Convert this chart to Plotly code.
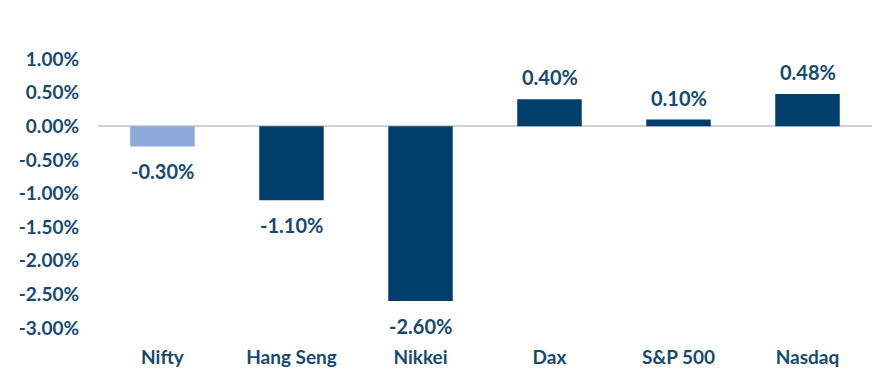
import plotly.graph_objects as go

categories = ["Nifty", "Hang Seng", "Nikkei", "Dax", "S&P 500", "Nasdaq"]
values = [-0.30, -1.10, -2.60, 0.40, 0.10, 0.48]
labels = ["-0.30%", "-1.10%", "-2.60%", "0.40%", "0.10%", "0.48%"]
tick_vals = [1.0, 0.5, 0.0, -0.5, -1.0, -1.5, -2.0, -2.5, -3.0]
tick_text = ["1.00%", "0.50%", "0.00%", "-0.50%", "-1.00%", "-1.50%", "-2.00%", "-2.50%", "-3.00%"]
bar_colors = ["#8eaadb", "#003f6b", "#003f6b", "#003f6b", "#003f6b", "#003f6b"]

TEXT = "#164a72"
FONT = "Lato"

fig = go.Figure(go.Bar(
    x=categories, y=values,
    marker=dict(color=bar_colors, line=dict(width=0)),
    cliponaxis=False,
))

for c, v, t in zip(categories, values, labels):
    fig.add_annotation(
        x=c, y=v, text=t, showarrow=False, yanchor="middle",
        yshift=22 if v >= 0 else -25,
        font=dict(family=FONT, size=20, color=TEXT, weight="bold"),
    )

fig.update_layout(
    width=876, height=392,
    margin=dict(l=98, r=4, t=59, b=64),
    paper_bgcolor="white", plot_bgcolor="white",
    bargap=0.5,
    showlegend=False,
    font=dict(family=FONT, size=19, color=TEXT, weight="bold"),
    xaxis=dict(showgrid=False, showline=False, ticks="", ticklabelstandoff=16,
               tickfont=dict(family=FONT, size=19, color=TEXT, weight="bold")),
    yaxis=dict(range=[-3.0, 1.0], tickvals=tick_vals, ticktext=tick_text,
               showgrid=False, zeroline=True, zerolinecolor="#d0d0d0", zerolinewidth=1.5,
               showline=False, ticks="", ticklabelstandoff=18,
               tickfont=dict(family=FONT, size=19, color=TEXT, weight="bold")),
)

fig.write_html("out.html")
